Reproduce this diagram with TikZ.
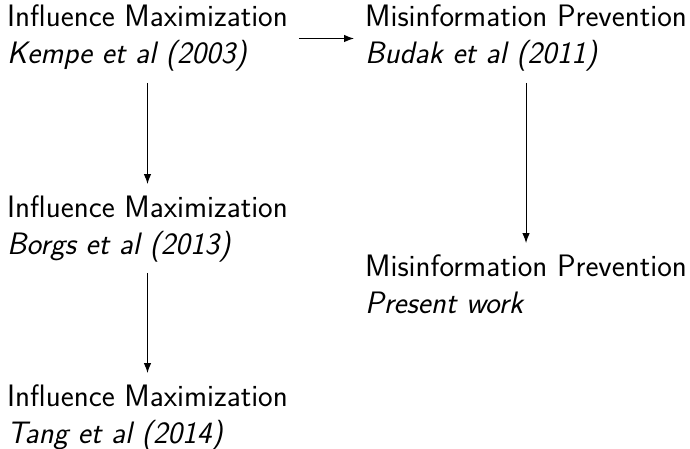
\documentclass[tikz,border=0pt]{standalone}
\usetikzlibrary{arrows.meta}
\begin{document}
\begin{tikzpicture}[x=1pt,y=-1pt,
  box/.style={anchor=base west, align=left, inner sep=11pt, font=\fontsize{31}{37}\selectfont\sffamily},
  arr/.style={-{Latex[length=10pt,width=7.5pt]}, line width=1pt}]
\useasboundingbox (0,0) rectangle (690,449);
\node[box] (a) at (-4,64) {Influence Maximization\\ \textit{Kempe et al (2003)}};
\node[box] (b) at (-4,254) {Influence Maximization\\ \textit{Borgs et al (2013)}};
\node[box] (c) at (-4,443) {Influence Maximization\\ \textit{Tang et al (2014)}};
\node[box] (d) at (354,64) {Misinformation Prevention\\ \textit{Budak et al (2011)}};
\node[box] (e) at (354,313) {Misinformation Prevention\\ \textit{Present work}};
\draw[arr] (a) -- (d);
\draw[arr] (a) -- (b);
\draw[arr] (b) -- (c);
\draw[arr] (d) -- (e);
\end{tikzpicture}
\end{document}
